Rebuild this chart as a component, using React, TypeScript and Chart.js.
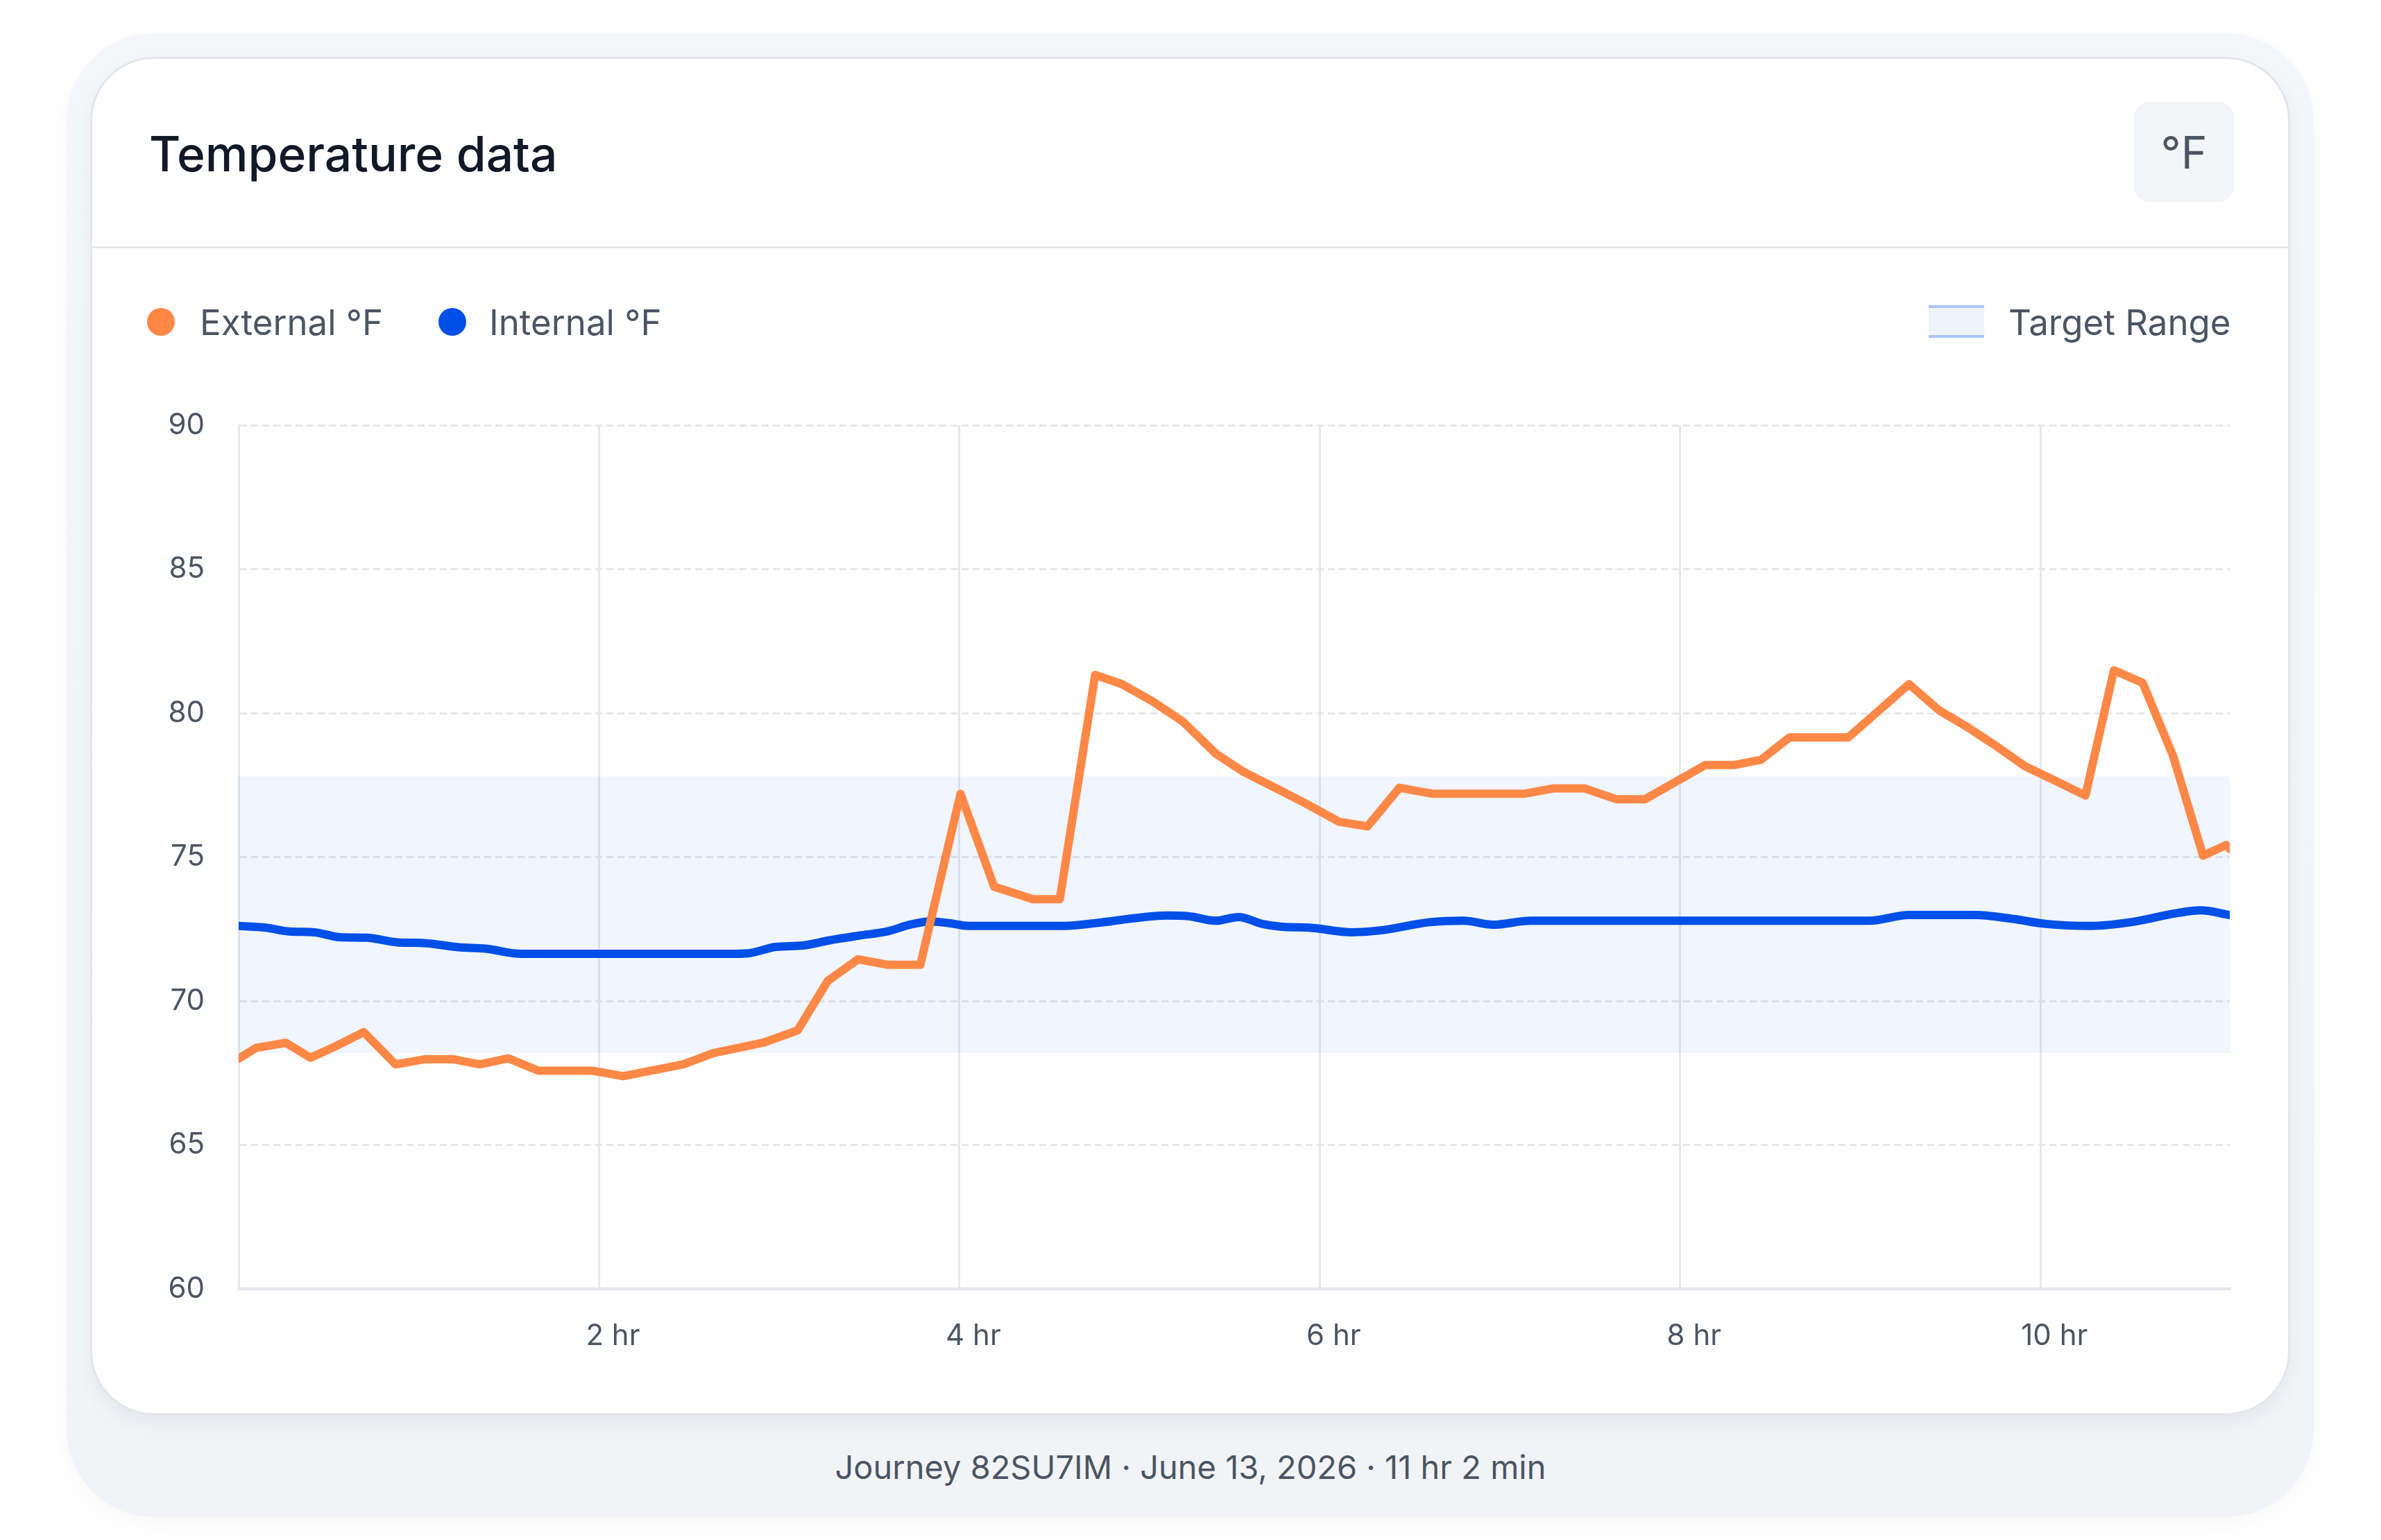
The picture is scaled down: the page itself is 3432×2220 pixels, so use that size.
import React, { useEffect, useRef } from 'react';
import Chart from 'chart.js/auto';

const externalHours = [0, 0.097, 0.261, 0.399, 0.535, 0.694, 0.871, 1.035, 1.19, 1.338, 1.496, 1.664, 1.963, 2.134, 2.467, 2.634, 2.91, 3.102, 3.269, 3.437, 3.605, 3.783, 4.006, 4.193, 4.408, 4.557, 4.753, 4.902, 5.07, 5.238, 5.424, 5.58, 5.733, 5.92, 6.106, 6.265, 6.442, 6.628, 7.132, 7.3, 7.468, 7.645, 7.804, 8.14, 8.298, 8.448, 8.607, 8.933, 9.27, 9.437, 9.596, 9.754, 9.913, 10.109, 10.249, 10.407, 10.566, 10.734, 10.902, 11.03, 11.05];
const externalTemps = [68.0, 68.37, 68.55, 68.03, 68.42, 68.92, 67.8, 67.98, 67.98, 67.8, 68.01, 67.58, 67.58, 67.39, 67.8, 68.19, 68.55, 68.98, 70.7, 71.45, 71.26, 71.26, 77.2, 73.97, 73.54, 73.54, 81.33, 81.01, 80.42, 79.72, 78.59, 77.95, 77.47, 76.87, 76.23, 76.07, 77.41, 77.2, 77.2, 77.39, 77.39, 77.01, 77.01, 78.2, 78.2, 78.38, 79.16, 79.16, 81.01, 80.1, 79.51, 78.86, 78.16, 77.57, 77.14, 81.49, 81.06, 78.54, 75.05, 75.42, 75.28];

const internalHours = [0, 0.15, 0.28, 0.42, 0.56, 0.71, 0.88, 1.04, 1.22, 1.37, 1.57, 2.73, 2.83, 2.98, 3.13, 3.28, 3.44, 3.6, 3.73, 3.84, 3.95, 4.05, 4.58, 4.77, 5.0, 5.15, 5.27, 5.42, 5.55, 5.68, 5.79, 5.94, 6.18, 6.33, 6.61, 6.8, 6.96, 7.17, 9.05, 9.27, 9.64, 9.85, 10.03, 10.28, 10.5, 10.76, 10.89, 11.05];
const internalTemps = [72.61, 72.55, 72.42, 72.39, 72.22, 72.2, 72.04, 72.01, 71.87, 71.82, 71.64, 71.64, 71.66, 71.88, 71.93, 72.11, 72.27, 72.42, 72.66, 72.77, 72.7, 72.61, 72.61, 72.72, 72.9, 72.97, 72.95, 72.79, 72.92, 72.68, 72.58, 72.55, 72.39, 72.45, 72.74, 72.79, 72.65, 72.79, 72.79, 72.99, 72.99, 72.85, 72.68, 72.61, 72.74, 73.06, 73.15, 72.99];

const targetLow = 68.2;
const targetHigh = 77.8;
const xMin = 0;
const xMax = 11.05;
const xTickHours = [0, 2, 4, 6, 8, 10];
const xTickLabels = ['', '2 hr', '4 hr', '6 hr', '8 hr', '10 hr'];
const yMin = 60;
const yMax = 90;
const yStep = 5;

const seriesNames = ['External °F', 'Internal °F'];
const seriesColors = ['#ff8847', '#004fe8'];
const bandLegend = 'Target Range';
const titleText = 'Temperature data';
const unitText = '°F';
const footerText = 'Journey 82SU7IM · June 13, 2026 · 11 hr 2 min';

const FONT = 'Inter, "Noto Sans", sans-serif';

function ChartCanvas() {
  const ref = useRef<HTMLCanvasElement | null>(null);
  useEffect(() => {
    if (!ref.current) return;
    const chart = new Chart(ref.current, {
      type: 'line',
      data: {
        datasets: [
          {
            label: seriesNames[0],
            data: externalHours.map((h, i) => ({ x: h, y: externalTemps[i] })),
            borderColor: seriesColors[0],
            borderWidth: 12,
            tension: 0,
            borderJoinStyle: 'round',
            borderCapStyle: 'round',
            pointRadius: 0,
            fill: false,
            order: 0,
          },
          {
            label: seriesNames[1],
            data: internalHours.map((h, i) => ({ x: h, y: internalTemps[i] })),
            borderColor: seriesColors[1],
            borderWidth: 12,
            cubicInterpolationMode: 'monotone',
            borderJoinStyle: 'round',
            borderCapStyle: 'round',
            pointRadius: 0,
            fill: false,
            order: 1,
          },
          {
            label: 'bandHigh',
            data: [{ x: xMin, y: targetHigh }, { x: xMax, y: targetHigh }],
            borderWidth: 0,
            borderColor: 'rgba(0,0,0,0)',
            pointRadius: 0,
            fill: false,
            order: 2,
          },
          {
            label: 'bandLow',
            data: [{ x: xMin, y: targetLow }, { x: xMax, y: targetLow }],
            borderWidth: 0,
            borderColor: 'rgba(0,0,0,0)',
            backgroundColor: 'rgba(59,130,246,0.08)',
            pointRadius: 0,
            fill: '-1',
            order: 3,
          },
        ],
      },
      options: {
        animation: false,
        responsive: true,
        maintainAspectRatio: false,
        layout: { padding: { top: 8, right: 87, bottom: 0, left: 0 } },
        plugins: { legend: { display: false }, tooltip: { enabled: false } },
        events: [],
        scales: {
          x: {
            type: 'linear',
            min: xMin,
            max: xMax,
            afterBuildTicks: (scale: any) => {
              scale.ticks = xTickHours.map((v) => ({ value: v }));
            },
            afterFit: (scale: any) => {
              scale.height = 142;
            },
            ticks: {
              callback: (_v: any, i: number) => xTickLabels[i],
              color: '#4b5563',
              font: { family: FONT, size: 42 },
              padding: 43,
              labelOffset: 20,
              maxRotation: 0,
              autoSkip: false,
            },
            grid: { color: '#e4e7eb', lineWidth: 3, drawTicks: false },
            border: { display: true, color: '#e2e5ea', width: 4 },
          },
          y: {
            type: 'linear',
            min: yMin,
            max: yMax,
            afterFit: (scale: any) => {
              scale.width = 214;
            },
            ticks: {
              stepSize: yStep,
              color: '#4b5563',
              font: { family: FONT, size: 42 },
              padding: 49,
            },
            grid: { color: '#e5e7eb', lineWidth: 3, drawTicks: false },
            border: { display: true, color: '#e4e7eb', width: 3, dash: [10, 6] },
          },
        },
      } as any,
    });
    return () => chart.destroy();
  }, []);
  return <canvas ref={ref} />;
}

const textTop = (baseline: number, size: number) => baseline - 0.8633 * size;

export default function App() {
  return (
    <div style={{ position: 'absolute', left: 0, top: 0, width: 3432, height: 2220, background: '#ffffff', overflow: 'hidden', fontFamily: FONT }}>
      <div style={{ position: 'absolute', left: 96, top: 48, width: 3239, height: 2139, borderRadius: 126, background: 'linear-gradient(#f5f6f9, #f2f3f7)', boxShadow: '0 10px 40px rgba(15,23,42,0.035)' }} />
      <div style={{ position: 'absolute', left: 130, top: 82, width: 3171, height: 1958, boxSizing: 'border-box', border: '3px solid #e3e6eb', borderRadius: 92, background: '#ffffff', boxShadow: '0 12px 26px rgba(15,23,42,0.05)' }} />
      <div style={{ position: 'absolute', left: 133, top: 355, width: 3165, height: 3, background: '#e5e7eb' }} />
      <div style={{ position: 'absolute', left: 215, top: textTop(248, 69.5), fontSize: 69.5, lineHeight: '69.5px', fontWeight: 500, color: '#111827', whiteSpace: 'nowrap' }}>{titleText}</div>
      <div style={{ position: 'absolute', left: 3076, top: 147, width: 144, height: 144, borderRadius: 22, background: '#f4f5f8', display: 'flex', alignItems: 'center', justifyContent: 'center', fontSize: 64, color: '#4b5563' }}>{unitText}</div>

      <div style={{ position: 'absolute', left: 212, top: 444, width: 40, height: 40, borderRadius: 20, background: seriesColors[0] }} />
      <div style={{ position: 'absolute', left: 288, top: textTop(483.5, 51), fontSize: 51, lineHeight: '51px', color: '#4b5563', whiteSpace: 'nowrap' }}>{seriesNames[0]}</div>
      <div style={{ position: 'absolute', left: 632, top: 444, width: 40, height: 40, borderRadius: 20, background: seriesColors[1] }} />
      <div style={{ position: 'absolute', left: 705, top: textTop(483.5, 51), fontSize: 51, lineHeight: '51px', color: '#4b5563', whiteSpace: 'nowrap' }}>{seriesNames[1]}</div>
      <div style={{ position: 'absolute', left: 2780, top: 440, width: 80, height: 47, boxSizing: 'border-box', background: '#eef4fe', borderTop: '4px solid #abc7f6', borderBottom: '4px solid #abc7f6' }} />
      <div style={{ position: 'absolute', left: 2895, top: textTop(483.5, 51), fontSize: 51, lineHeight: '51px', color: '#4b5563', whiteSpace: 'nowrap' }}>{bandLegend}</div>

      <div style={{ position: 'absolute', left: 130, top: 539, width: 3171, height: 1461 }}>
        <ChartCanvas />
      </div>

      <div style={{ position: 'absolute', left: 0, width: 3432, top: textTop(2132, 47), fontSize: 47, lineHeight: '47px', color: '#4b5563', textAlign: 'center', whiteSpace: 'nowrap' }}>{footerText}</div>
    </div>
  );
}
